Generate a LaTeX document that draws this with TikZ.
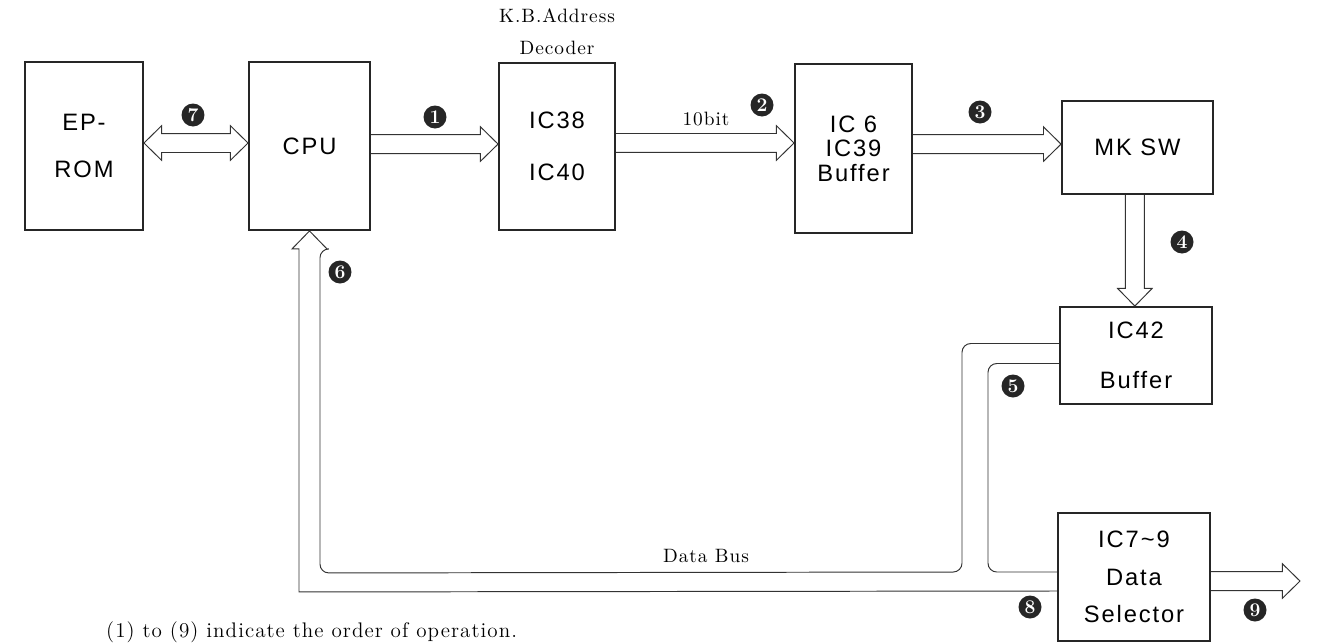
\documentclass[tikz,border=0pt]{standalone}
\usepackage{fontspec}
\newfontfamily\boxfont[LetterSpace=8]{Liberation Sans}
\newfontfamily\notefont[LetterSpace=5]{Latin Modern Roman}
\usetikzlibrary{calc,positioning}

\begin{document}
\begin{tikzpicture}[
  x=0.02cm, y=-0.02cm,
  every node/.style={align=center},
  block/.style={rectangle, draw=black!85, line width=1.1pt, inner sep=0pt, font=\boxfont\fontsize{13.5}{16}\selectfont},
  bus/.style={draw=black!80, line width=0.55pt},
  num/.style={circle, fill=black!85, text=white, inner sep=0pt, minimum size=0.46cm, font=\bfseries\fontsize{11}{11}\selectfont},
  note/.style={font=\notefont\fontsize{11}{13.5}\selectfont},
  hbus/.style={to path={let \p1=(\tikztostart), \p2=(\tikztotarget) in
    (\x1,\y1+5.4pt) -- (\x2-10pt,\y1+5.4pt) -- (\x2-10pt,\y1+9.8pt) -- (\x2,\y1)
    -- (\x2-10pt,\y1-9.8pt) -- (\x2-10pt,\y1-5.4pt) -- (\x1,\y1-5.4pt)}},
  vbus/.style={to path={let \p1=(\tikztostart), \p2=(\tikztotarget) in
    (\x1-5.4pt,\y1) -- (\x1-5.4pt,\y2+10pt) -- (\x1-9.8pt,\y2+10pt) -- (\x1,\y2)
    -- (\x1+9.8pt,\y2+10pt) -- (\x1+5.4pt,\y2+10pt) -- (\x1+5.4pt,\y1)}},
  dbus/.style={to path={let \p1=(\tikztostart), \p2=(\tikztotarget) in
    (\x1,\y1) -- (\x1+10pt,\y1+9.8pt) -- (\x1+10pt,\y1+5.4pt) -- (\x2-10pt,\y1+5.4pt)
    -- (\x2-10pt,\y1+9.8pt) -- (\x2,\y1) -- (\x2-10pt,\y1-9.8pt) -- (\x2-10pt,\y1-5.4pt)
    -- (\x1+10pt,\y1-5.4pt) -- (\x1+10pt,\y1-9.8pt) -- cycle}}
]
\useasboundingbox (0,0) rectangle (1320,643);

% --- BLOCKS ---
\node[block, minimum width=2.36cm, minimum height=3.36cm] (eprom) at (84,146) {EP-\\[11pt]ROM};
\node[block, minimum width=2.42cm, minimum height=3.36cm] (cpu) at (309.5,146) {CPU};
\node[block, minimum width=2.32cm, minimum height=3.34cm] (ic38) at (557,146.5) {IC38\\[13.5pt]IC40};
\node[block, minimum width=2.34cm, minimum height=3.38cm] (ic6) at (853.5,148.5) {IC 6\\[-2pt]IC39\\[-2pt]Buffer};
\node[block, minimum width=3.02cm, minimum height=1.86cm] (mksw) at (1137.5,147.5) {MK SW};
\node[block, minimum width=3.04cm, minimum height=1.94cm] (ic42) at (1136,355.5) {IC42\\[12.3pt]Buffer};
\node[block, minimum width=3.04cm, minimum height=2.56cm] (dsel) at (1134,577) {IC7\textasciitilde9\\[5.3pt]Data\\[5.3pt]Selector};
\coordinate (dsout) at (1300,581);

% --- LABELS ---
\node[note, above=0.02cm of ic38] (kbdec) {K.B.Address\\[5pt]Decoder};
\node[note] (tenbit) at (706,119) {10bit};
\node[note] (dbus) at (706,556) {Data Bus};
\node[note, anchor=base west, font=\notefont\fontsize{12}{14}\selectfont] (caption) at (100,637) {(1) to (9) indicate the order of operation.};

% --- BUS ARROWS ---
\draw[bus, dbus] ([yshift=1.7pt]eprom.east) to (cpu.west);
\draw[bus, hbus] ([yshift=1.1pt]cpu.east) to (ic38.west);
\draw[bus, hbus] ([yshift=2pt]ic38.east) to (ic6.west);
\draw[bus, hbus] ([yshift=2.5pt]ic6.east) to (mksw.west);
\draw[bus, vbus] ([xshift=-1.5pt]mksw.south) to (ic42.north);
\draw[bus, hbus] ([yshift=-2.3pt]dsel.east) to (dsout);

% Data bus back to CPU
\draw[bus] ($(ic42.west)+(0,-12)$) [rounded corners=5pt] -| (962,572) -- ($(cpu.south)+(10.5,342)$)
  -- ($(cpu.south)+(10.5,18)$) [sharp corners] -- ($(cpu.south)+(17.5,18)$) -- (cpu.south)
  -- ($(cpu.south)+(-17.5,18)$) -- ($(cpu.south)+(-10.5,18)$) -- ($(cpu.south)+(-10.5,361)$)
  [rounded corners=5pt] -- ($(dsel.west)+(0,14)$);
\draw[bus, rounded corners=5pt] ($(ic42.west)+(0,8)$) -| (988,572) -- ($(dsel.west)+(0,-5)$);

% --- ORDER NUMBERS ---
\node[num] (n1) at (435,117) {1};
\node[num] (n2) at (762,105) {2};
\node[num] (n3) at (980,112) {3};
\node[num] (n4) at (1182,242) {4};
\node[num] (n5) at (1013,386) {5};
\node[num] (n6) at (340,272) {6};
\node[num] (n7) at (193,115) {7};
\node[num] (n8) at (1030,607) {8};
\node[num] (n9) at (1255,610) {9};

\end{tikzpicture}
\end{document}
